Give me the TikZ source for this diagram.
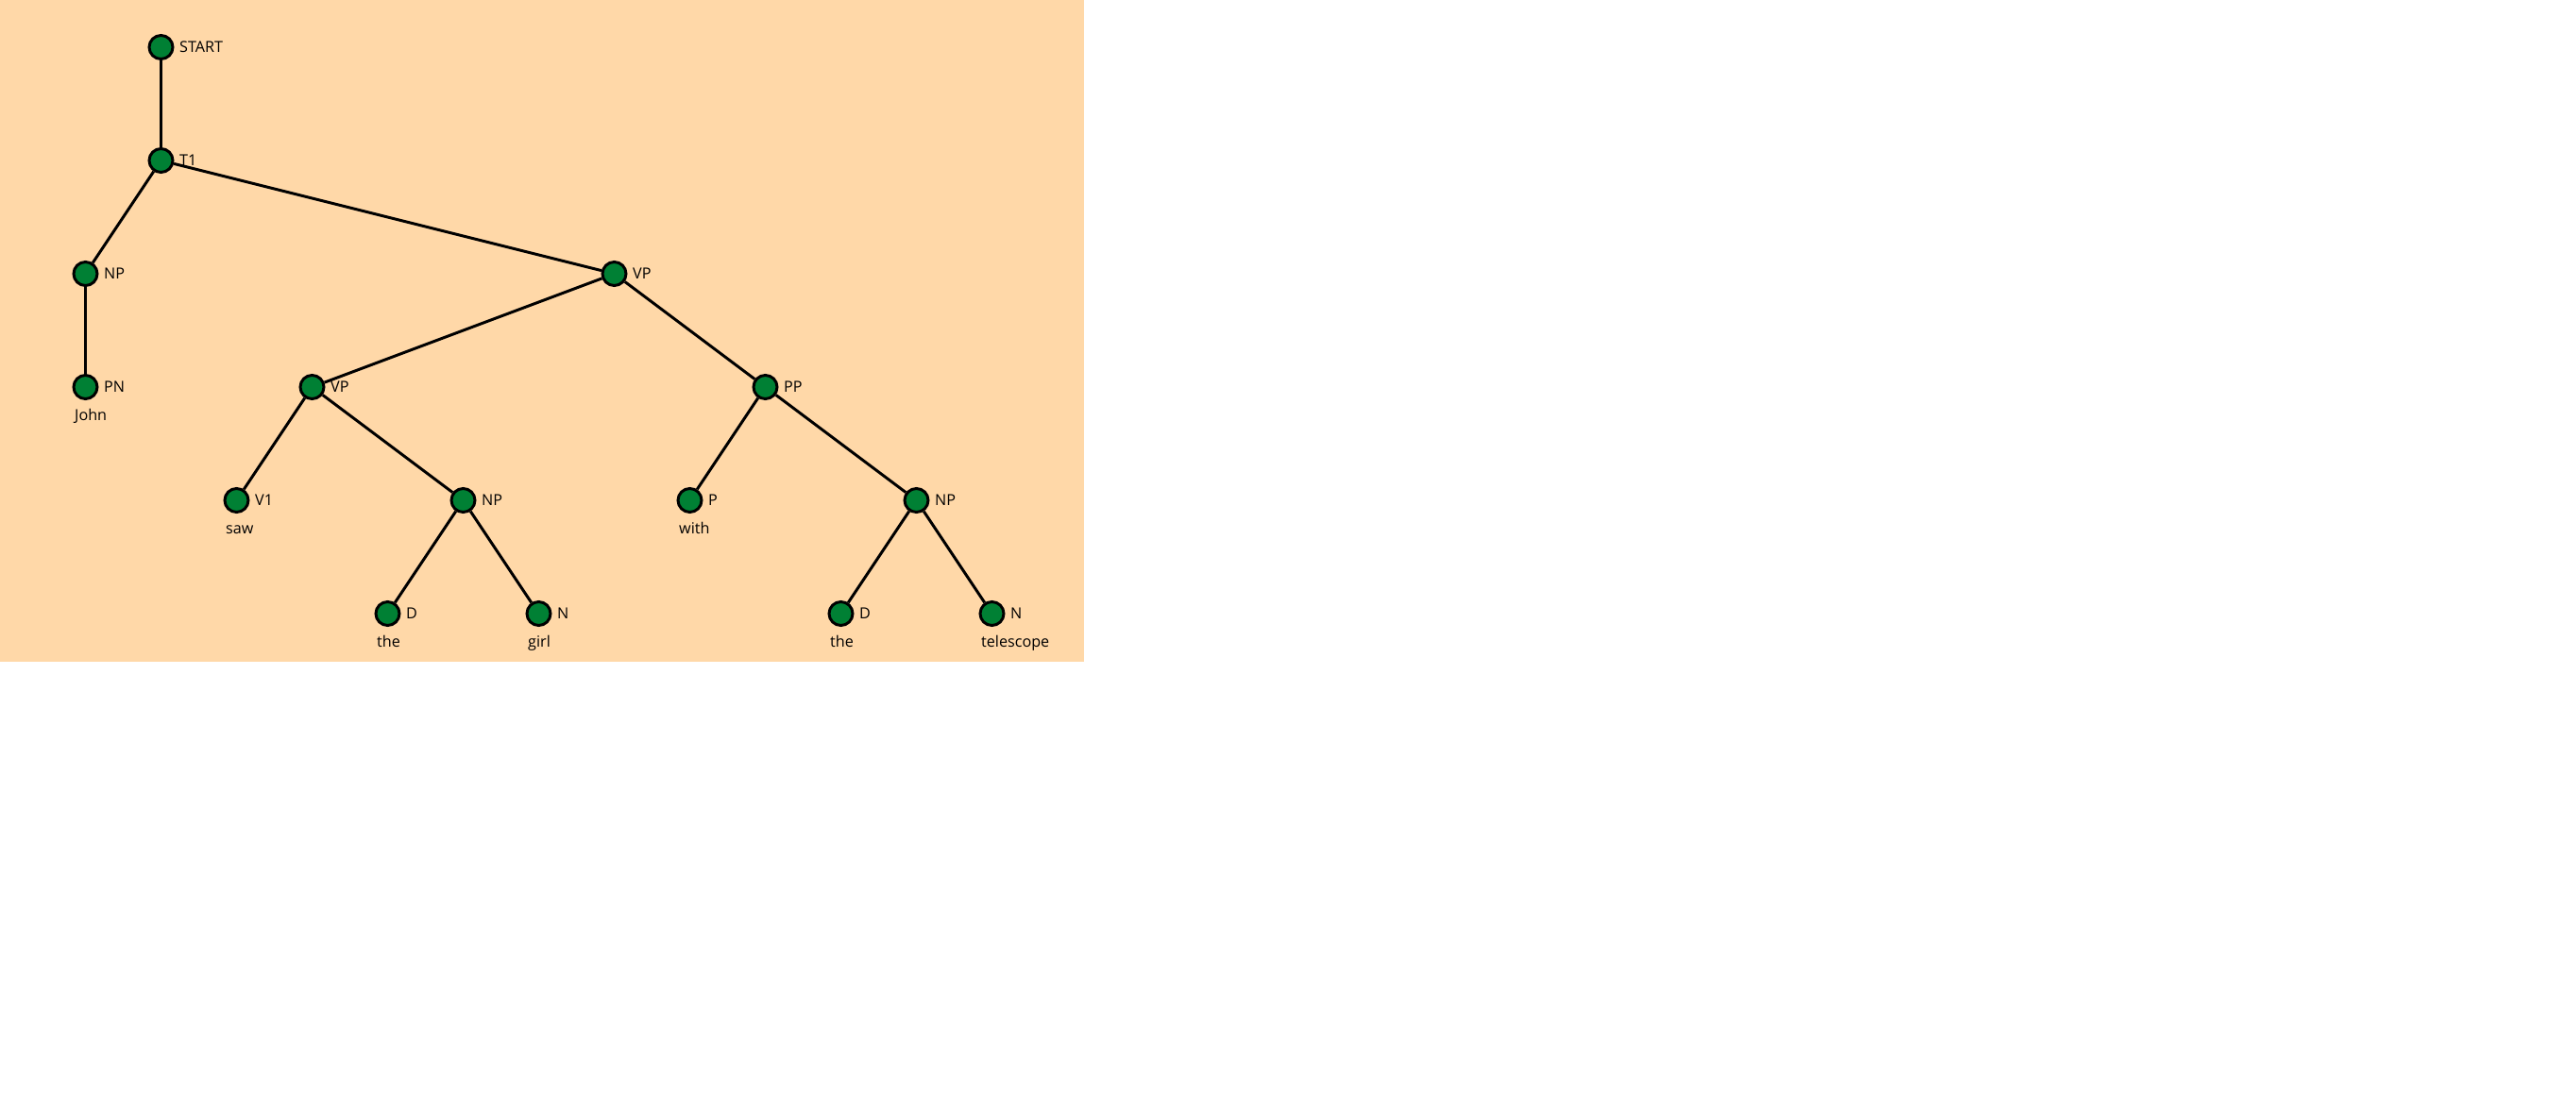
\documentclass[tikz,border=0pt]{standalone}
\usepackage{fontspec}
\setmainfont{Open Sans}
\usetikzlibrary{positioning, calc}

\definecolor{peach}{RGB}{255,216,168}
\definecolor{nodegreen}{RGB}{0,128,52}

\begin{document}
\begin{tikzpicture}[
  tnode/.style={circle, minimum size=0.25cm, inner sep=0pt, draw=black, line width=0.85pt, fill=nodegreen},
  cat/.style={inner sep=0pt, font=\fontsize{4.6pt}{5.5pt}\selectfont, text=black},
  word/.style={anchor=base west, inner sep=0pt, font=\fontsize{4.6pt}{5.5pt}\selectfont, text=black},
  edge/.style={line width=0.85pt, draw=black},
  node distance=1.2cm and 0.8cm, on grid,
  every label/.style={cat},
  label distance=0.05cm]

  % Background
  \useasboundingbox (0,0) rectangle (27.28,-11.60);
  \fill [peach] (0,0) rectangle (11.48,-7.01);

  % Nodes
  \node (start) [tnode, label=right:START] at (1.705,-0.50) {};
  \node (t1) [tnode, label=right:T1, below=of start] {};
  \node (np) [tnode, label=right:NP, below left=of t1] {};
  \node (vp) [tnode, label=right:VP, below right=1.2cm and 4.8cm of t1] {};
  \node (pn) [tnode, label=right:PN, below=of np] {};
  \node (vpa) [tnode, label=right:VP, below left=1.2cm and 3.2cm of vp] {};
  \node (pp) [tnode, label=right:PP, below right=1.2cm and 1.6cm of vp] {};
  \node (vone) [tnode, label=right:V1, below left=of vpa] {};
  \node (npa) [tnode, label=right:NP, below right=1.2cm and 1.6cm of vpa] {};
  \node (p) [tnode, label=right:P, below left=of pp] {};
  \node (npb) [tnode, label=right:NP, below right=1.2cm and 1.6cm of pp] {};
  \node (da) [tnode, label=right:D, below left=of npa] {};
  \node (na) [tnode, label=right:N, below right=of npa] {};
  \node (db) [tnode, label=right:D, below left=of npb] {};
  \node (nb) [tnode, label=right:N, below right=of npb] {};

  % Words
  \node (wjohn) [word] at ($(pn.center)+(-0.12,-0.35)$) {John};
  \node (wsaw) [word] at ($(vone.center)+(-0.12,-0.35)$) {saw};
  \node (wwith) [word] at ($(p.center)+(-0.12,-0.35)$) {with};
  \node (wthea) [word] at ($(da.center)+(-0.12,-0.35)$) {the};
  \node (wgirl) [word] at ($(na.center)+(-0.12,-0.35)$) {girl};
  \node (wtheb) [word] at ($(db.center)+(-0.12,-0.35)$) {the};
  \node (wtelescope) [word] at ($(nb.center)+(-0.12,-0.35)$) {telescope};

  % Edges
  \draw [edge] (start) -- (t1);
  \draw [edge] (t1) -- (np);
  \draw [edge] (t1) -- (vp);
  \draw [edge] (np) -- (pn);
  \draw [edge] (vp) -- (vpa);
  \draw [edge] (vp) -- (pp);
  \draw [edge] (vpa) -- (vone);
  \draw [edge] (vpa) -- (npa);
  \draw [edge] (pp) -- (p);
  \draw [edge] (pp) -- (npb);
  \draw [edge] (npa) -- (da);
  \draw [edge] (npa) -- (na);
  \draw [edge] (npb) -- (db);
  \draw [edge] (npb) -- (nb);

\end{tikzpicture}
\end{document}
